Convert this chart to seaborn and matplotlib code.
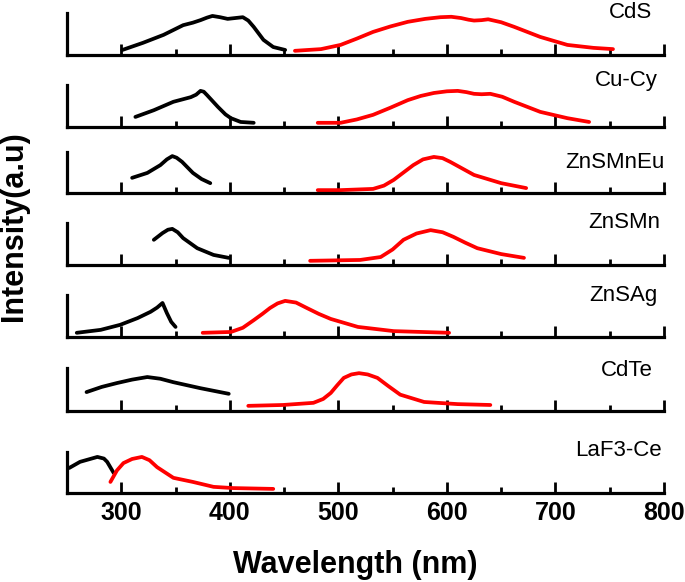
import numpy as np
import pandas as pd
import matplotlib
matplotlib.use('Agg')
import matplotlib.pyplot as plt
import seaborn as sns
from matplotlib.ticker import MultipleLocator

sns.set_style('ticks')
plt.rcParams['font.family'] = ['Liberation Sans', 'DejaVu Sans']
plt.rcParams.update({'text.color': 'black', 'xtick.color': 'black',
                     'axes.labelcolor': 'black'})

# ---- data (intensity normalised to panel height) ----
samples = ['CdS', 'Cu-Cy', 'ZnSMnEu', 'ZnSMn', 'ZnSAg', 'CdTe', 'LaF3-Ce']

exc_wl = [
    [301, 320, 339, 357, 366, 373, 379, 384, 391, 398, 405, 412, 417, 422, 431, 440, 451],
    [313, 330, 348, 364, 369, 373, 376, 379, 389, 396, 401, 410, 422],
    [310, 324, 336, 342, 347, 351, 356, 366, 374, 382],
    [330, 338, 343, 347, 352, 357, 370, 385, 399],
    [259, 281, 299, 315, 327, 333, 338, 342, 346, 350],
    [268, 282, 296, 310, 324, 336, 348, 373, 399],
    [252, 262, 270, 278, 284, 287, 293],
]
exc_int = [
    [0.12, 0.29, 0.48, 0.71, 0.77, 0.83, 0.89, 0.93, 0.90, 0.86, 0.88, 0.90, 0.82, 0.67, 0.36, 0.19, 0.12],
    [0.24, 0.40, 0.60, 0.71, 0.77, 0.86, 0.84, 0.76, 0.48, 0.30, 0.21, 0.12, 0.10],
    [0.37, 0.49, 0.68, 0.82, 0.90, 0.86, 0.76, 0.49, 0.34, 0.24],
    [0.60, 0.76, 0.84, 0.86, 0.78, 0.64, 0.40, 0.24, 0.17],
    [0.10, 0.17, 0.29, 0.45, 0.60, 0.70, 0.81, 0.57, 0.36, 0.24],
    [0.44, 0.56, 0.65, 0.73, 0.79, 0.75, 0.67, 0.53, 0.40],
    [0.61, 0.76, 0.82, 0.88, 0.84, 0.76, 0.49],
]

emi_wl = [
    [460, 484, 502, 517, 532, 548, 564, 580, 594, 604, 613, 620, 625, 632, 638, 650, 662, 686, 711, 735, 753],
    [481, 502, 517, 532, 548, 564, 576, 588, 600, 610, 618, 625, 632, 640, 651, 662, 686, 711, 731],
    [481, 502, 532, 542, 551, 560, 569, 578, 588, 596, 603, 614, 625, 650, 673],
    [474, 520, 539, 550, 560, 572, 585, 596, 606, 617, 628, 650, 671],
    [375, 401, 412, 422, 430, 437, 444, 451, 461, 471, 482, 493, 518, 551, 602],
    [417, 449, 477, 486, 493, 499, 505, 512, 519, 527, 536, 546, 557, 579, 610, 640],
    [290, 296, 302, 310, 319, 326, 333, 348, 366, 385, 403, 440],
]
emi_int = [
    [0.10, 0.14, 0.24, 0.39, 0.55, 0.68, 0.79, 0.86, 0.90, 0.91, 0.88, 0.84, 0.82, 0.83, 0.85, 0.78, 0.67, 0.43, 0.24, 0.17, 0.14],
    [0.10, 0.10, 0.18, 0.29, 0.46, 0.64, 0.74, 0.81, 0.85, 0.86, 0.83, 0.79, 0.78, 0.79, 0.72, 0.60, 0.36, 0.21, 0.12],
    [0.07, 0.07, 0.10, 0.18, 0.32, 0.50, 0.68, 0.82, 0.88, 0.85, 0.76, 0.60, 0.44, 0.24, 0.12],
    [0.10, 0.12, 0.19, 0.37, 0.60, 0.75, 0.83, 0.78, 0.67, 0.53, 0.40, 0.26, 0.17],
    [0.10, 0.12, 0.22, 0.40, 0.55, 0.69, 0.80, 0.86, 0.82, 0.69, 0.55, 0.43, 0.24, 0.14, 0.10],
    [0.12, 0.14, 0.19, 0.28, 0.42, 0.60, 0.77, 0.85, 0.88, 0.85, 0.77, 0.58, 0.38, 0.21, 0.16, 0.14],
    [0.27, 0.55, 0.73, 0.83, 0.88, 0.80, 0.63, 0.37, 0.27, 0.15, 0.12, 0.10],
]

# panel layout in pixels (baseline y, panel height) and label anchors
W, H = 685, 582
baselines = [55, 127, 193, 265, 337, 411, 493]
heights = [42, 42, 41, 42, 42, 43, 41]
label_pos = [(652, 12), (658, 81), (665, 163), (660, 223), (658, 296), (653, 371), (662, 451)]
x0_px, x1_px = 67, 664

fig = plt.figure(figsize=(W / 100, H / 100), dpi=100)

for i, name in enumerate(samples):
    ax = fig.add_axes([x0_px / W, 1 - baselines[i] / H, (x1_px - x0_px) / W, heights[i] / H])
    ex = pd.DataFrame({'wl': exc_wl[i], 'I': exc_int[i]})
    em = pd.DataFrame({'wl': emi_wl[i], 'I': emi_int[i]})
    sns.lineplot(data=ex, x='wl', y='I', ax=ax, color='black', lw=2.7,
                 sort=False, estimator=None, clip_on=False,
                 solid_joinstyle='round', solid_capstyle='round')
    sns.lineplot(data=em, x='wl', y='I', ax=ax, color='#ff0000', lw=2.7,
                 sort=False, estimator=None, clip_on=False,
                 solid_joinstyle='round', solid_capstyle='round')
    ax.set_xlim(250, 800)
    ax.set_ylim(0, 1)
    ax.set_facecolor('none')
    for s in ['top', 'right']:
        ax.spines[s].set_visible(False)
    for s in ['left', 'bottom']:
        ax.spines[s].set_linewidth(2.3)
        ax.spines[s].set_color('black')
    ax.set_yticks([])
    ax.xaxis.set_major_locator(MultipleLocator(100))
    ax.xaxis.set_minor_locator(MultipleLocator(50))
    ax.tick_params(axis='x', which='major', direction='in', length=8, width=2.0,
                   pad=6, color='black', labelcolor='black')
    ax.tick_params(axis='x', which='minor', direction='in', length=4, width=2.0,
                   color='black')
    ax.set_xlabel('')
    ax.set_ylabel('')
    if i < len(samples) - 1:
        ax.set_xticklabels([])
    else:
        for t in ax.get_xticklabels():
            t.set_fontsize(18)
            t.set_fontweight('bold')
    fig.text(label_pos[i][0] / W, 1 - label_pos[i][1] / H, name,
             ha='right', va='center', fontsize=16, color='black')

fig.text(355 / W, 1 - 565 / H, 'Wavelength (nm)', ha='center', va='center',
         fontsize=22, fontweight='bold', color='black')
fig.text(14 / W, 1 - 226 / H, 'Intensity(a.u)', ha='center', va='center',
         rotation=90, fontsize=22, fontweight='bold', color='black')

fig.savefig('out.png', dpi=100, facecolor='white')
